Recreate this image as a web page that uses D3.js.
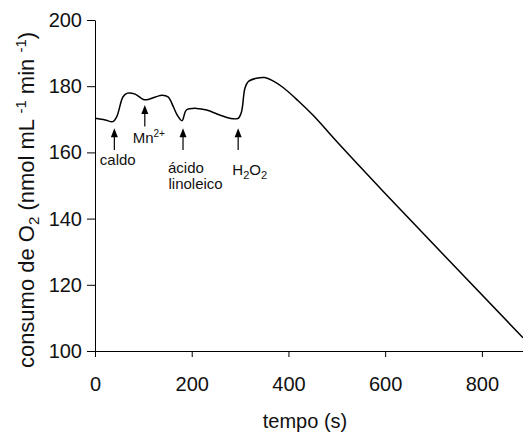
<!DOCTYPE html>
<html>
<head>
<meta charset="utf-8">
<script src="https://cdn.jsdelivr.net/npm/d3@7/dist/d3.min.js"></script>
<style>
  body { margin: 0; background: #fff; }
  svg { display: block; font-family: Arial, "Liberation Sans", sans-serif; }
  .axis path, .axis line { stroke: #000; }
  .axis text { fill: #111; font-size: 20px; }
</style>
</head>
<body>
<div id="chart"></div>
<script>
// O2 consumption trace
const tempo = [0, 21, 37, 45, 58, 67, 83, 100, 110, 138, 151, 162, 170, 180, 189, 210, 231,
  258, 279, 296, 303, 310, 317, 334, 351, 368, 389, 420, 451, 506, 600, 885];
const consumo = [170.3, 169.8, 169.3, 170.8, 176.8, 177.9, 177.6, 176.0, 176.0, 177.3, 176.8,
  173.8, 171.3, 169.6, 172.8, 173.3, 172.8, 171.3, 170.3, 170.3, 172.3, 179.4, 181.4, 182.4,
  182.6, 181.6, 179.6, 175.6, 171.2, 162.3, 147.6, 104.0];

// tick values
const xTicks = [0, 200, 400, 600, 800];
const yTicks = [100, 120, 140, 160, 180, 200];

// additions marked with arrows: time of arrow, arrow tip / tail (data units)
const addTimes = [40, 103, 182, 296];
const arrowTip = [167.3, 174.3, 167.3, 167.3];
const arrowTail = [160.7, 167.8, 160.7, 160.7];

const width = 523, height = 437;
const svg = d3.select('#chart').append('svg')
  .attr('width', width)
  .attr('height', height);

const x = d3.scaleLinear().domain([0, 885]).range([95, 523]);
const y = d3.scaleLinear().domain([100, 200]).range([351, 20]);

// axes
const xAxis = d3.axisBottom(x).tickValues(xTicks).tickSize(6).tickPadding(20).tickSizeOuter(0);
const yAxis = d3.axisLeft(y).tickValues(yTicks).tickSize(8).tickPadding(5).tickSizeOuter(0);

svg.append('g')
  .attr('class', 'x axis')
  .attr('transform', `translate(0,${y(100)})`)
  .call(xAxis);

svg.append('g')
  .attr('class', 'y axis')
  .attr('transform', `translate(${x(0)},0)`)
  .call(yAxis);

// axis titles
svg.append('text')
  .attr('x', 305)
  .attr('y', 428)
  .attr('text-anchor', 'middle')
  .style('font-size', '20px')
  .style('fill', '#111')
  .text('tempo (s)');

const yTitle = svg.append('text')
  .attr('transform', 'translate(34,200) rotate(-90)')
  .attr('text-anchor', 'middle')
  .style('font-size', '22px')
  .style('fill', '#111');
yTitle.append('tspan').text('consumo de O');
yTitle.append('tspan').attr('dy', 5).style('font-size', '15px').text('2');
yTitle.append('tspan').attr('dy', -5).text(' (nmol mL ');
yTitle.append('tspan').attr('dy', -8).style('font-size', '15px').text('-1');
yTitle.append('tspan').attr('dy', 8).text(' min ');
yTitle.append('tspan').attr('dy', -8).style('font-size', '15px').text('-1');
yTitle.append('tspan').attr('dy', 8).text(')');

// the trace
const line = d3.line()
  .x((d, i) => x(tempo[i]))
  .y(d => y(d))
  .curve(d3.curveCatmullRom.alpha(0.5));

svg.append('path')
  .datum(consumo)
  .attr('fill', 'none')
  .attr('stroke', '#000')
  .attr('stroke-width', 1.5)
  .attr('d', line);

// arrows
const arrows = svg.append('g');
addTimes.forEach((t, i) => {
  const ax = x(t), y0 = y(arrowTip[i]), y1 = y(arrowTail[i]);
  arrows.append('line')
    .attr('x1', ax).attr('x2', ax)
    .attr('y1', y0 + 6).attr('y2', y1)
    .attr('stroke', '#000')
    .attr('stroke-width', 1.2);
  arrows.append('path')
    .attr('d', `M${ax},${y0} L${ax - 3.5},${y0 + 9} L${ax + 3.5},${y0 + 9} Z`)
    .attr('fill', '#000');
});

// labels for additions
const lab = svg.append('g').style('font-size', '15px').style('fill', '#111');
lab.append('text').attr('x', x(10)).attr('y', y(156.2)).text('caldo');

const mn = lab.append('text').attr('x', x(78)).attr('y', y(162.9));
mn.append('tspan').text('Mn');
mn.append('tspan').attr('dy', -6).style('font-size', '10px').text('2+');

lab.append('text').attr('x', x(151)).attr('y', y(153.8)).text('ácido');
lab.append('text').attr('x', x(152)).attr('y', y(148.9)).text('linoleico');

const h2o2 = lab.append('text').attr('x', x(284)).attr('y', y(153.2));
h2o2.append('tspan').text('H');
h2o2.append('tspan').attr('dy', 4).style('font-size', '11px').text('2');
h2o2.append('tspan').attr('dy', -4).text('O');
h2o2.append('tspan').attr('dy', 4).style('font-size', '11px').text('2');
</script>
</body>
</html>
